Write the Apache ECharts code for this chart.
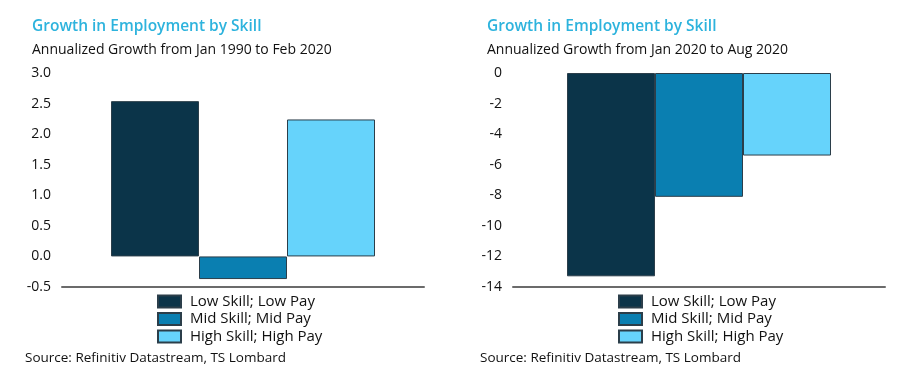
<!DOCTYPE html>
<html>
<head>
<meta charset="utf-8">
<script src="https://cdn.jsdelivr.net/npm/echarts@6/dist/echarts.min.js"></script>
<style>
  html, body { margin: 0; padding: 0; background: #fff; }
  #wrap { width: 900px; height: 377px; position: relative; }
  .chart { position: absolute; top: 0; width: 450px; height: 377px; }
</style>
</head>
<body>
<div id="wrap">
  <div id="left" class="chart" style="left:0"></div>
  <div id="right" class="chart" style="left:450px"></div>
</div>
<script>
const skills = ['Low Skill; Low Pay', 'Mid Skill; Mid Pay', 'High Skill; High Pay'];
const colors = ['#0b3449', '#0a7fb1', '#66d3fb'];
// annualized growth, Jan 1990 - Feb 2020
const growthLong = [2.54, -0.37, 2.24];
// annualized growth, Jan 2020 - Aug 2020
const growthCovid = [-13.3, -8.1, -5.4];

const FONT = 'Open Sans';

function buildOption(cfg) {
  return {
    animation: false,
    backgroundColor: '#fff',
    textStyle: {fontFamily: FONT},
    title: [
      {
        text: 'Growth in Employment by Skill',
        left: cfg.textLeft, top: 19, padding: 0,
        textStyle: {color: '#2db3dd', fontSize: 15.5, fontWeight: 600, fontFamily: FONT}
      },
      {
        text: cfg.subtitle,
        left: cfg.textLeft, top: 43, padding: 0,
        textStyle: {color: '#111', fontSize: 14, fontWeight: 'normal', fontFamily: FONT}
      },
      {
        text: 'Source: Refinitiv Datastream, TS Lombard',
        left: cfg.sourceLeft, top: 351, padding: 0,
        textStyle: {color: '#111', fontSize: 13.5, fontWeight: 'normal', fontFamily: FONT}
      }
    ],
    legend: {
      orient: 'vertical',
      left: cfg.legendLeft, top: 294, padding: 0,
      itemWidth: 23, itemHeight: 12, itemGap: 2.5,
      icon: 'rect',
      data: skills,
      textStyle: {fontSize: 15, color: '#111', lineHeight: 15, padding: [0, 0, 0, 4], fontFamily: FONT}
    },
    grid: {left: cfg.gridLeft, right: cfg.gridRight, top: 73, bottom: 90},
    xAxis: {
      type: 'category',
      data: [''],
      axisLine: {onZero: false, lineStyle: {color: '#6b6b6b', width: 2}},
      axisTick: {show: false},
      axisLabel: {show: false}
    },
    yAxis: {
      type: 'value',
      min: cfg.min, max: cfg.max, interval: cfg.interval,
      axisLine: {show: false},
      axisTick: {show: false},
      splitLine: {show: false},
      axisLabel: {
        color: '#111', fontSize: 14, margin: 11, fontFamily: FONT,
        formatter: cfg.formatter
      }
    },
    series: skills.map((name, i) => ({
      name: name,
      type: 'bar',
      barWidth: 88,
      barGap: '0%',
      itemStyle: {color: colors[i], borderColor: '#2b3e4a', borderWidth: 1},
      data: [cfg.values[i]]
    }))
  };
}

echarts.init(document.getElementById('left')).setOption(buildOption({
  subtitle: 'Annualized Growth from Jan 1990 to Feb 2020',
  textLeft: 32, sourceLeft: 25, legendLeft: 157,
  gridLeft: 62, gridRight: 26,
  min: -0.5, max: 3, interval: 0.5,
  formatter: v => v.toFixed(1),
  values: growthLong
}));

echarts.init(document.getElementById('right')).setOption(buildOption({
  subtitle: 'Annualized Growth from Jan 2020 to Aug 2020',
  textLeft: 37, sourceLeft: 30, legendLeft: 168,
  gridLeft: 63, gridRight: 15,
  min: -14, max: 0, interval: 2,
  formatter: v => String(v),
  values: growthCovid
}));
</script>
</body>
</html>
